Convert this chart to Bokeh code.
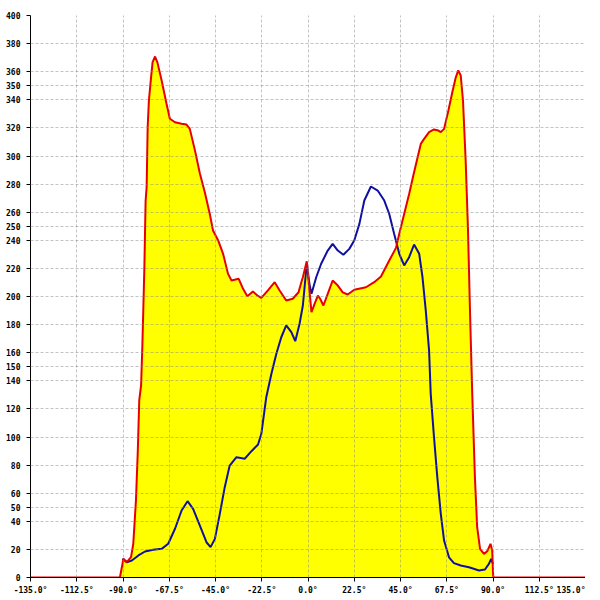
from bokeh.plotting import figure
from bokeh.models import Range1d, FixedTicker, LinearAxis, ColumnDataSource
from bokeh.embed import file_html
from bokeh.resources import INLINE

# Red series (fills yellow below)
red_deg = [-135, -91.5, -89.8, -88.2, -86.1, -85.0, -83.7, -82.8, -82.1, -81.2, -80.6, -80.1,
           -79.6, -79.0, -78.5, -78.0, -77.4, -76.5, -75.6, -74.4, -73.3, -71.2, -68.8, -67.2,
           -64.7, -61.5, -59.1, -57.5, -55.0, -52.6, -50.2, -47.8, -46.2, -43.7, -41.3, -38.9,
           -37.2, -33.7, -31.6, -29.5, -26.8, -24.6, -22.7, -19.5, -16.2, -13.8, -10.6, -7.4,
           -4.6, -3.0, -2.5, -0.6, 0.7, 1.7, 3.2, 4.8, 5.9, 7.5, 9.6, 12.0, 14.5, 16.9, 19.3,
           22.5, 28.2, 32.2, 35.5, 38.7, 42.8, 44.4, 49.2, 51.6, 54.9, 56.5, 58.9, 61.3, 63.4,
           64.6, 66.2, 68.3, 70.2, 71.9, 73.1, 74.3, 75.4, 76.7, 77.8, 78.8, 79.9, 81.2, 82.3,
           83.7, 85.6, 87.2, 88.8, 89.6, 90.1, 90.4, 135]
red_val = [0, 0, 13.3, 11, 14.5, 24, 54.8, 90, 126, 136.7, 164, 192,
           221, 268, 277.8, 320.5, 339.5, 353.7, 366.8, 370.8, 366.8, 353.7, 337, 326.5,
           324, 323, 322.4, 319.3, 304, 287.5, 274.2, 258.9, 247, 239.9, 230.4, 216.1,
           211.4, 212.6, 205.5, 200.2, 203.5, 200.7, 199, 204.3, 210.2, 204.3, 197.2, 198.4,
           203, 211.4, 213.7, 225.1, 204.3, 188.8, 194.8, 200.7, 198.4, 193.6, 201.9, 211.4, 207.8, 203, 201.4,
           204.8, 206.6, 210.2, 214.2, 223.3, 234.6, 244.6, 273, 288.5, 308.7, 312.2, 317, 318.9, 318.1,
           317, 319.3, 332.4, 345.4, 356, 360.9, 357.3, 339.5, 296.8, 249.3, 190, 130.7, 71.4, 35.8,
           20.4, 16.8, 18.7, 24, 19.2, 1, 0, 0]

# Blue series
blue_deg = [-90.3, -88.2, -85.7, -82.5, -79.3, -75.3, -71.2, -68.0, -64.7, -61.5, -58.6, -55.9,
            -52.6, -49.4, -47.4, -45.3, -42.9, -40.5, -38.1, -34.8, -30.8, -27.5, -24.3, -22.7,
            -20.3, -17.8, -15.4, -13.0, -10.6, -8.1, -6.2, -4.1, -2.5, -0.6, 0.7, 1.7, 4.0, 6.4,
            9.6, 12.0, 14.5, 17.2, 20.1, 22.5, 25.0, 27.4, 30.6, 33.9, 37.1, 39.5, 41.9, 44.4,
            46.8, 49.2, 51.6, 54.1, 55.7, 57.3, 58.9, 59.7, 61.3, 62.9, 64.6, 66.2, 68.6, 71.0,
            74.3, 78.3, 83.2, 86.1, 88.0, 89.1, 90.0]
blue_val = [13.3, 10.9, 12.1, 15.7, 18.5, 19.7, 20.4, 24, 34.7, 47.7, 54.3, 48.9,
            37, 25.1, 21.6, 27.5, 45.3, 64.3, 79.7, 85.6, 84.5, 89.9, 94.7, 102.3,
            128.3, 145, 159.2, 171, 179.4, 174.6, 168.2, 180.6, 193.6, 223.3, 209, 201.9, 213.7, 223.3,
            232.7, 237.5, 232.7, 229.7, 233.9, 239.9, 251.7, 268.3, 278.3, 275.4, 268.3, 258.9, 244.6, 230.4,
            222.1, 228, 237, 230.4, 213.7, 190, 161.6, 130.7, 99.9, 71.4, 45.3, 26.3, 14.4, 10.2,
            8.5, 7.3, 5, 5.7, 9.7, 13.3, 9.7]

x_ticks = [-135, -112.5, -90, -67.5, -45, -22.5, 0, 22.5, 45, 67.5, 90, 112.5, 135]
x_labels = ["-135.0°", "-112.5°", "-90.0°", "-67.5°", "-45.0°", "-22.5°", "0.0°",
            "22.5°", "45.0°", "67.5°", "90.0°", "112.5°", "135.0°"]
y_ticks = [0, 20, 40, 50, 60, 80, 100, 120, 140, 150, 160, 180, 200, 220, 240, 250, 260,
           280, 300, 320, 340, 350, 360, 380, 400]

FONT = "DejaVu Sans Mono"

p = figure(frame_width=555, frame_height=562, output_backend="svg", toolbar_location=None,
           x_range=Range1d(-135, 135), y_range=Range1d(0, 400),
           min_border_left=30, min_border_right=0, min_border_top=15, min_border_bottom=0,
           background_fill_color="white", border_fill_color="white")
p.outline_line_color = None

rsrc = ColumnDataSource(dict(x=red_deg, y=red_val))
bsrc = ColumnDataSource(dict(x=blue_deg, y=blue_val))
p.varea(x="x", y1=0, y2="y", source=rsrc, fill_color="#ffff00")
p.line(x="x", y="y", source=bsrc, line_color="#1010a0", line_width=2)
p.line(x="x", y="y", source=rsrc, line_color="#e80000", line_width=2)

for ax in (p.xaxis[0], p.yaxis[0]):
    ax.axis_line_color = "black"
    ax.axis_line_width = 1
    ax.major_tick_line_color = "black"
    ax.major_tick_out = 4
    ax.major_tick_in = 0
    ax.minor_tick_line_color = None
    ax.major_label_text_font = FONT
    ax.major_label_text_font_size = "8px"
    ax.major_label_text_font_style = "bold"
    ax.major_label_text_color = "black"

p.xaxis[0].ticker = FixedTicker(ticks=x_ticks)
p.xaxis[0].major_label_overrides = {t: l for t, l in zip(x_ticks, x_labels)}
p.xaxis[0].major_label_standoff = 4
p.yaxis[0].ticker = FixedTicker(ticks=y_ticks)
p.yaxis[0].major_label_overrides = {t: str(t) for t in y_ticks}
p.yaxis[0].major_label_standoff = 6

rax = LinearAxis(ticker=FixedTicker(ticks=[]), axis_line_color="black",
                 major_tick_line_color=None, minor_tick_line_color=None,
                 major_label_text_font_size="0px")
p.add_layout(rax, "right")

for g in (p.xgrid[0], p.ygrid[0]):
    g.grid_line_color = "#888888"
    g.grid_line_alpha = 0.5
    g.grid_line_dash = "3 2"
    g.level = "overlay"
p.xgrid[0].ticker = FixedTicker(ticks=x_ticks)
p.ygrid[0].ticker = FixedTicker(ticks=y_ticks)

open("out.html", "w").write(file_html(p, INLINE))
